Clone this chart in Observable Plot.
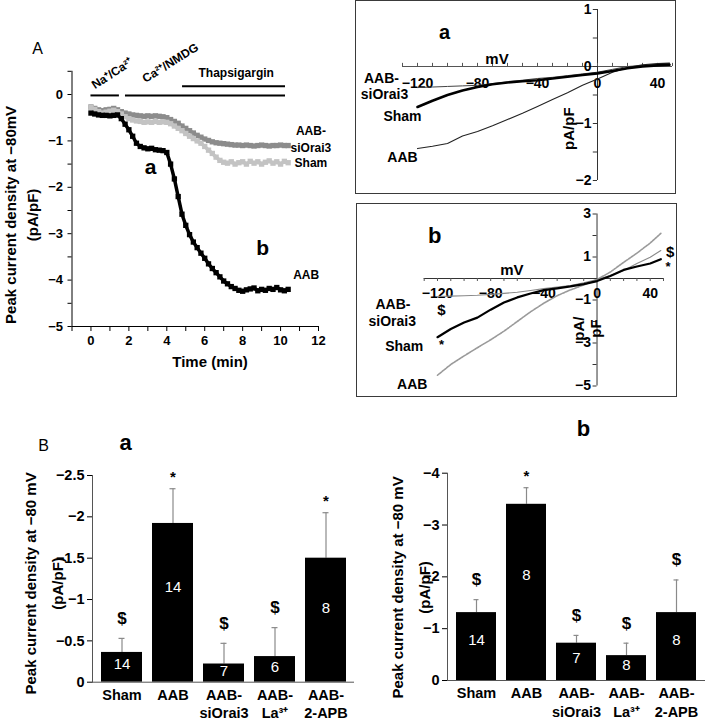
<!DOCTYPE html>
<html>
<head>
<meta charset="utf-8">
<script src="https://cdn.jsdelivr.net/npm/d3@7"></script>
<script src="https://cdn.jsdelivr.net/npm/@observablehq/plot@0.6"></script>
<style>
  html, body { margin: 0; padding: 0; background: #fff; }
  #fig { position: relative; width: 705px; height: 720px; overflow: hidden; background: #fff;
         font-family: "Liberation Sans", Arial, Helvetica, sans-serif; }
  .panel { position: absolute; }
  .panel svg { display: block; overflow: visible; }
  .box { position: absolute; border: 1.5px solid #3a3a3a; box-sizing: border-box; pointer-events: none; }
</style>
</head>
<body>
<div id="fig"></div>
<script>
// ---------------- DATA ----------------
// Panel A: time course of peak current density at -80 mV
const tcTime = [0,0.2,0.4,0.6,0.8,1.0,1.2,1.4,1.6,1.8,
                2.0,2.2,2.4,2.6,2.8,3.0,3.2,3.4,3.6,3.8,
                4.0,4.2,4.4,4.6,4.8,5.0,5.2,5.4,5.6,5.8,
                6.0,6.2,6.4,6.6,6.8,7.0,7.2,7.4,7.6,7.8,
                8.0,8.2,8.4,8.6,8.8,9.0,9.2,9.4,9.6,9.8,
                10.0,10.2,10.4];
const tcAAB = [-0.40,-0.42,-0.44,-0.45,-0.45,-0.46,-0.45,-0.44,-0.52,-0.64,
               -0.76,-0.90,-1.05,-1.12,-1.15,-1.17,-1.16,-1.19,-1.20,-1.21,
               -1.25,-1.50,-1.82,-2.20,-2.58,-2.82,-3.02,-3.18,-3.30,-3.42,
               -3.53,-3.65,-3.75,-3.84,-3.93,-4.02,-4.08,-4.14,-4.18,-4.22,
               -4.24,-4.21,-4.19,-4.17,-4.23,-4.20,-4.22,-4.18,-4.20,-4.16,
               -4.21,-4.23,-4.20];
const tcSham = [-0.28,-0.32,-0.37,-0.40,-0.38,-0.36,-0.34,-0.37,-0.42,-0.48,
                -0.52,-0.55,-0.57,-0.58,-0.60,-0.59,-0.60,-0.58,-0.60,-0.59,
                -0.60,-0.63,-0.68,-0.73,-0.78,-0.84,-0.90,-0.95,-1.00,-1.05,
                -1.12,-1.20,-1.27,-1.35,-1.42,-1.46,-1.48,-1.45,-1.50,-1.47,
                -1.45,-1.50,-1.44,-1.48,-1.45,-1.50,-1.46,-1.43,-1.48,-1.45,
                -1.50,-1.44,-1.47];
const tcSiOrai3 = [-0.27,-0.30,-0.33,-0.35,-0.33,-0.32,-0.30,-0.33,-0.37,-0.40,
                   -0.42,-0.44,-0.45,-0.46,-0.47,-0.46,-0.47,-0.46,-0.47,-0.48,
                   -0.50,-0.54,-0.58,-0.62,-0.68,-0.73,-0.78,-0.83,-0.88,-0.92,
                   -0.96,-0.99,-1.02,-1.04,-1.05,-1.06,-1.07,-1.08,-1.09,-1.09,
                   -1.10,-1.09,-1.10,-1.11,-1.10,-1.09,-1.10,-1.11,-1.10,-1.10,
                   -1.09,-1.10,-1.10];
const tcXTicks = [0,2,4,6,8,10,12];
const tcYTicks = [0,-1,-2,-3,-4,-5];
const treatNames = ["Na⁺/Ca²⁺","Ca²⁺/NMDG","Thapsigargin"];
const treatStart = [0, 1.82, 4.83];
const treatEnd   = [1.5, 10.26, 10.26];

// Panels a / b: I–V relations
const ivVoltage = [-120,-110,-100,-90,-80,-70,-60,-50,-40,-30,-20,-10,0,10,20,30,40,48];
const ivA_AAB     = [-1.44,-1.40,-1.35,-1.22,-1.14,-1.04,-0.93,-0.82,-0.70,-0.58,-0.46,-0.33,-0.22,-0.10,-0.02,0.03,0.05,0.06];
const ivA_Sham    = [-0.71,-0.60,-0.50,-0.42,-0.36,-0.31,-0.28,-0.26,-0.24,-0.21,-0.18,-0.15,-0.12,-0.08,-0.03,0.00,0.02,0.03];
const ivA_SiOrai3 = [-0.37,-0.36,-0.35,-0.34,-0.33,-0.30,-0.27,-0.24,-0.21,-0.19,-0.16,-0.13,-0.10,-0.05,0.00,0.02,0.04,0.05];
const ivB_AAB     = [-4.50,-4.00,-3.60,-3.22,-2.85,-2.45,-2.00,-1.55,-1.15,-0.80,-0.53,-0.30,-0.05,0.30,0.75,1.18,1.65,2.10];
const ivB_Sham    = [-2.73,-2.35,-2.05,-1.82,-1.45,-1.12,-0.88,-0.70,-0.54,-0.46,-0.37,-0.26,-0.12,0.12,0.40,0.56,0.70,0.90];
const ivB_SiOrai3 = [-0.84,-0.82,-0.80,-0.78,-0.74,-0.69,-0.64,-0.56,-0.47,-0.40,-0.33,-0.20,-0.05,0.14,0.37,0.70,0.99,1.30];
const ivXTicks  = [-120,-80,-40,0,40];
const ivAYTicks = [1,0,-1,-2];
const ivBYTicks = [3,1,-1,-3,-5];

// Panel B: bar charts
const barGroups = ["Sham","AAB","AAB-\nsiOrai3","AAB-\nLa³⁺","AAB-\n2-APB"];
const barA_mean = [-0.36,-1.92,-0.22,-0.31,-1.50];
const barA_sem  = [0.17,0.42,0.25,0.35,0.55];
const barA_n    = [14,14,7,6,8];
const barA_sig  = ["$","*","$","$","*"];
const barB_mean = [-1.31,-3.40,-0.72,-0.48,-1.31];
const barB_sem  = [0.25,0.32,0.15,0.24,0.63];
const barB_n    = [14,8,7,8,8];
const barB_sig  = ["$","*","$","$","$"];
const barAYTicks = [0,-0.5,-1,-1.5,-2,-2.5];
const barBYTicks = [0,-1,-2,-3,-4];

// ---------------- RENDER ----------------
const FONT = '"Liberation Sans", Arial, Helvetica, sans-serif';
const fmt = d3.format("");
const fig = document.getElementById("fig");
function place(node, left, top) {
  const w = document.createElement("div");
  w.className = "panel";
  w.style.left = left + "px";
  w.style.top = top + "px";
  w.appendChild(node);
  fig.appendChild(w);
}
function box(left, top, width, height) {
  const b = document.createElement("div");
  b.className = "box";
  Object.assign(b.style, {left: left + "px", top: top + "px", width: width + "px", height: height + "px"});
  fig.appendChild(b);
}

// ---- Panel A: time course ----
const rowsOf = (vals) => tcTime.map((t, i) => ({t, v: vals[i]}));
const tcSeries = [
  {rows: rowsOf(tcSiOrai3), color: "#8c8c8c"},
  {rows: rowsOf(tcSham), color: "#c3c3c3"},
  {rows: rowsOf(tcAAB), color: "#000000"}
];
const treat = treatNames.map((name, i) => ({name, x1: treatStart[i], x2: treatEnd[i]}));

const tc = Plot.plot({
  width: 355, height: 400,
  marginLeft: 71.5, marginRight: 37, marginTop: 70.8, marginBottom: 74,
  x: {domain: [-1, 12]},
  y: {domain: [-5, 0.5]},
  style: {fontFamily: FONT, fontWeight: "bold", fontSize: "13px", background: "transparent", color: "#000"},
  marks: [
    Plot.ruleX([-1], {y1: -5, y2: 0.5}),
    Plot.ruleY([-5], {x1: -1, x2: 12}),
    Plot.axisX({ticks: d3.range(-1, 13), tickSize: 5, tickPadding: 4,
                tickFormat: d => tcXTicks.includes(d) ? fmt(d) : "", label: null}),
    Plot.axisY({ticks: d3.range(-5, 0.51, 0.5), tickSize: 4, tickPadding: 5,
                tickFormat: d => tcYTicks.includes(d) ? fmt(d) : "", label: null}),
    // solution bars
    Plot.ruleY(treat.slice(0, 2), {y: -0.02, x1: "x1", x2: "x2", strokeWidth: 2}),
    Plot.ruleY(treat.slice(2), {y: 0.18, x1: "x1", x2: "x2", strokeWidth: 2}),
    Plot.text([treatNames[0]], {x: 1.12, y: 0.45, rotate: -33, fontSize: 12}),
    Plot.text([treatNames[1]], {x: 4.19, y: 0.68, rotate: -32, fontSize: 12}),
    Plot.text([treatNames[2]], {x: 7.66, y: 0.45, fontSize: 12}),
    // traces
    ...tcSeries.flatMap(s => [
      Plot.line(s.rows, {x: "t", y: "v", stroke: s.color, strokeWidth: 3.5}),
      Plot.dot(s.rows, {x: "t", y: "v", fill: s.color, symbol: "square", r: 3})
    ]),
    // labels
    Plot.text(["AAB-"], {x: 11.6, y: -0.78, fontSize: 12}),
    Plot.text(["siOrai3"], {x: 11.6, y: -1.16, fontSize: 12}),
    Plot.text(["Sham"], {x: 11.6, y: -1.47, fontSize: 12}),
    Plot.text(["AAB"], {x: 11.35, y: -3.9, fontSize: 12}),
    Plot.text(["a"], {x: 3.14, y: -1.57, fontSize: 21}),
    Plot.text(["b"], {x: 9.05, y: -3.32, fontSize: 21}),
    Plot.text(["A"], {x: -2.82, y: 0.99, fontSize: 16, fontWeight: "normal"}),
    Plot.text(["Time (min)"], {x: 6.28, y: -5.77, fontSize: 15}),
    Plot.text(["Peak current density at −80mV\n(pA/pF)"],
              {frameAnchor: "left", rotate: -90, dx: -52, dy: 16, textAnchor: "middle",
               lineAnchor: "middle", lineHeight: 1.5, fontSize: 15})
  ]
});
place(tc, 0, 0);

// ---- I–V panels ----
const ivRows = (vals) => ivVoltage.map((v, i) => ({v, c: vals[i]}));

const ivA = Plot.plot({
  width: 321, height: 194,
  marginLeft: 47, marginRight: 4, marginTop: 9, marginBottom: 14,
  x: {domain: [-130, 50], axis: null},
  y: {domain: [-2, 1], axis: null},
  style: {fontFamily: FONT, fontWeight: "bold", fontSize: "14px", background: "transparent", color: "#000"},
  marks: [
    Plot.ruleY([0], {x1: -130, x2: 50, stroke: "#555"}),
    Plot.ruleX([0], {y1: -2, y2: 1, stroke: "#333"}),
    Plot.ruleX(d3.range(-130, 51, 10), {x: d => d, y1: 0, y2: 0.055, stroke: "#555"}),
    Plot.ruleY(d3.range(-2, 1.01, 0.5), {y: d => d, x1: 0, x2: -2.8, stroke: "#333"}),
    Plot.text(ivXTicks, {x: d => d, y: 0, dy: 17, text: d => fmt(d)}),
    Plot.text(ivAYTicks, {x: 0, y: d => d, dx: -6, textAnchor: "end", text: d => fmt(d)}),
    Plot.line(ivRows(ivA_SiOrai3), {x: "v", y: "c", stroke: "#444", strokeWidth: 1}),
    Plot.line(ivRows(ivA_AAB), {x: "v", y: "c", stroke: "#222", strokeWidth: 1.1}),
    Plot.line(ivRows(ivA_Sham), {x: "v", y: "c", stroke: "#000", strokeWidth: 2.6}),
    Plot.text(["mV"], {x: -67, y: 0, dy: -7, fontSize: 15}),
    Plot.text(["pA/pF"], {x: -19, y: -1.09, rotate: -90, fontSize: 15}),
    Plot.text(["AAB-"], {x: -144, y: -0.21, fontSize: 14}),
    Plot.text(["siOrai3"], {x: -142, y: -0.49, fontSize: 14}),
    Plot.text(["Sham"], {x: -130, y: -0.88, fontSize: 14}),
    Plot.text(["AAB"], {x: -130, y: -1.6, fontSize: 14}),
    Plot.text(["a"], {x: -102, y: 0.6, fontSize: 20})
  ]
});
place(ivA, 355, 0);
box(355, 0, 321, 194);

const ivB = Plot.plot({
  width: 321, height: 194,
  marginLeft: 67.7, marginRight: 14, marginTop: 10.5, marginBottom: 11.5,
  x: {domain: [-130, 50], axis: null},
  y: {domain: [-5, 3], axis: null},
  style: {fontFamily: FONT, fontWeight: "bold", fontSize: "14px", background: "transparent", color: "#000"},
  marks: [
    Plot.ruleY([0], {x1: -130, x2: 50, stroke: "#333"}),
    Plot.ruleX([0], {y1: -5, y2: 3, stroke: "#333"}),
    Plot.ruleX(d3.range(-130, 51, 10), {x: d => d, y1: 0, y2: -0.14, stroke: "#555"}),
    Plot.ruleY(d3.range(-5, 3.01, 1), {y: d => d, x1: 0, x2: -3, stroke: "#333"}),
    Plot.text(ivXTicks, {x: d => d, y: 0, dy: 15, text: d => fmt(d)}),
    Plot.text(ivBYTicks, {x: 0, y: d => d, dx: -6, textAnchor: "end", text: d => fmt(d)}),
    Plot.line(ivRows(ivB_AAB), {x: "v", y: "c", stroke: "#9a9a9a", strokeWidth: 1.6, strokeDasharray: "2,1"}),
    Plot.line(ivRows(ivB_SiOrai3), {x: "v", y: "c", stroke: "#8a8a8a", strokeWidth: 1.1}),
    Plot.line(ivRows(ivB_Sham), {x: "v", y: "c", stroke: "#000", strokeWidth: 2.2}),
    Plot.text(["mV"], {x: -64, y: 0, dy: -8, fontSize: 15}),
    Plot.text(["pA/\npF"], {x: -7.5, y: -2.33, rotate: -90, lineAnchor: "middle", lineHeight: 1.1, fontSize: 15}),
    Plot.text(["AAB-"], {x: -153.5, y: -1.21, fontSize: 14}),
    Plot.text(["siOrai3"], {x: -154, y: -2.0, fontSize: 14}),
    Plot.text(["Sham"], {x: -145, y: -3.16, fontSize: 14}),
    Plot.text(["AAB"], {x: -139, y: -4.93, fontSize: 14}),
    Plot.text(["$"], {x: -117, y: -1.49, fontSize: 15}),
    Plot.text(["*"], {x: -117, y: -3.1, fontSize: 13}),
    Plot.text(["$"], {x: 55, y: 1.21, fontSize: 15}),
    Plot.text(["*"], {x: 53.4, y: 0.55, fontSize: 13}),
    Plot.text(["b"], {x: -122, y: 2.0, fontSize: 22})
  ]
});
place(ivB, 356, 203);
box(356, 203, 321, 194);

// ---- Panel B bar charts ----
function barPlot(means, sems, ns, sigs, yTicks, yDomain, o) {
  const rows = barGroups.map((g, i) => ({g, mean: means[i], top: means[i] - sems[i], n: ns[i], sig: sigs[i]}));
  return Plot.plot({
    width: o.width, height: 320,
    marginLeft: 92, marginRight: o.mr, marginTop: o.mt, marginBottom: o.mb,
    x: {domain: barGroups, paddingInner: 0.2, paddingOuter: 0.135, label: null},
    y: {domain: yDomain, label: null},
    style: {fontFamily: FONT, fontWeight: "bold", fontSize: "14.5px", background: "transparent", color: "#000"},
    marks: [
      Plot.ruleX(rows, {x: "g", y1: "mean", y2: "top", stroke: "#8a8a8a", strokeWidth: 1.2}),
      Plot.tickY(rows, {x: "g", y: "top", stroke: "#8a8a8a", strokeWidth: 1.2, insetLeft: 17.5, insetRight: 17.5}),
      Plot.barY(rows, {x: "g", y: "mean", fill: "#000"}),
      Plot.text(rows.filter(d => d.sig === "$"), {x: "g", y: "top", text: "sig", dy: -20, fontSize: 17}),
      Plot.text(rows.filter(d => d.sig === "*"), {x: "g", y: "top", text: "sig", dy: -12, fontSize: 15}),
      Plot.text(rows, {x: "g", y: d => d.mean * 0.6, text: d => String(d.n), fill: "#fff",
                       fontWeight: "normal", fontSize: 15}),
      Plot.ruleY([0], {stroke: "#555"}),
      Plot.frame({anchor: "left", stroke: "#555"}),
      Plot.axisY({ticks: yTicks, tickSize: 5, tickPadding: 3, tickFormat: d => fmt(d), label: null}),
      Plot.axisX({tickSize: 0, tickPadding: 4, lineHeight: 1.3, label: null}),
      Plot.text(["Peak current density at −80 mV\n(pA/pF)"],
                {frameAnchor: "left", rotate: -90, dx: o.tdx, dy: o.tdy, textAnchor: "middle",
                 lineAnchor: "middle", lineHeight: o.tlh, fontSize: 15}),
      ...o.extra
    ]
  });
}

const barA = barPlot(barA_mean, barA_sem, barA_n, barA_sig, barAYTicks, [0, -2.5], {
  width: 355, mr: 1, mt: 75, mb: 38.3, tdx: -51.5, tdy: 4.6, tlh: 1.8,
  extra: [
    Plot.text(["B"], {frameAnchor: "top-left", dx: -49, dy: -30, textAnchor: "middle", lineAnchor: "middle",
                      fontSize: 16, fontWeight: "normal"}),
    Plot.text(["a"], {frameAnchor: "top-left", dx: 33, dy: -33, textAnchor: "middle", lineAnchor: "middle",
                      fontSize: 22})
  ]
});
place(barA, 0, 400);

const barB = barPlot(barB_mean, barB_sem, barB_n, barB_sig, barBYTicks, [0, -4], {
  width: 350, mr: 0, mt: 72.7, mb: 40, tdx: -40, tdy: 10.6, tlh: 1.85,
  extra: [
    Plot.text(["b"], {frameAnchor: "top-left", dx: 136, dy: -44.7, textAnchor: "middle", lineAnchor: "middle",
                      fontSize: 22})
  ]
});
place(barB, 355, 400);
</script>
</body>
</html>
